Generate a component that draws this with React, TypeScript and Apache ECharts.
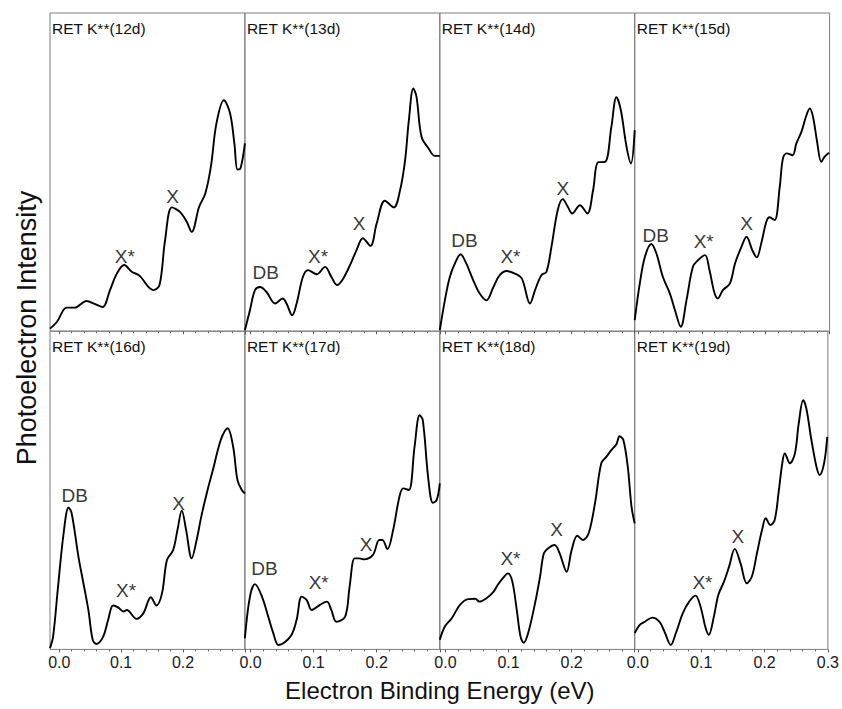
import React, { useEffect, useRef } from "react";
import * as echarts from "echarts";

// ---------- data ----------
const panelTitles = [
  "RET K**(12d)", "RET K**(13d)", "RET K**(14d)", "RET K**(15d)",
  "RET K**(16d)", "RET K**(17d)", "RET K**(18d)", "RET K**(19d)",
];

// x-axis start per column (eV); every panel ends at 0.3
const columnXMin = [-0.015, -0.009, -0.009, -0.005];
const xMax = 0.3;

const majorTickValues = [0, 0.1, 0.2, 0.3];
const minorTickValues = [0.02, 0.04, 0.06, 0.08, 0.12, 0.14, 0.16, 0.18, 0.22, 0.24, 0.26, 0.28];
const tickLabelsInner = [0, 0.1, 0.2];
const tickLabelsLast = [0, 0.1, 0.2, 0.3];

const spec12 = [[-0.015,0.8],[-0.004,2.9],[0.012,7.4],[0.025,7.4],[0.044,9.5],[0.058,8.5],[0.070,7.6],[0.082,12.9],[0.093,18.1],[0.105,20.8],[0.117,18.7],[0.130,17.4],[0.144,13.9],[0.152,12.9],[0.162,14.5],[0.171,28.6],[0.182,38.9],[0.195,37.5],[0.206,34.4],[0.214,31.2],[0.226,39.1],[0.236,43.3],[0.245,51.7],[0.254,65.3],[0.266,72.6],[0.276,68.5],[0.283,59.0],[0.288,50.8],[0.293,51.2],[0.300,59.0]];
const spec13 = [[-0.009,0.3],[-0.001,6.6],[0.007,12.9],[0.015,13.9],[0.025,12.4],[0.039,8.7],[0.051,10.3],[0.057,8.7],[0.066,5.0],[0.073,8.7],[0.083,17.1],[0.091,19.2],[0.105,17.9],[0.118,20.2],[0.128,17.1],[0.137,14.5],[0.147,16.6],[0.160,21.8],[0.168,25.5],[0.178,29.2],[0.190,26.8],[0.200,33.9],[0.213,41.0],[0.227,38.9],[0.237,44.3],[0.245,53.8],[0.251,66.4],[0.258,76.3],[0.263,73.7],[0.271,61.1],[0.282,57.5],[0.292,55.1],[0.300,55.1]];
const spec14 = [[-0.009,0.3],[-0.001,9.7],[0.007,17.1],[0.015,21.3],[0.024,24.2],[0.033,21.3],[0.044,16.0],[0.054,11.9],[0.065,9.7],[0.076,13.9],[0.086,17.6],[0.097,18.9],[0.110,18.1],[0.121,16.6],[0.134,8.7],[0.142,12.9],[0.152,17.6],[0.160,18.6],[0.168,26.5],[0.178,38.1],[0.186,41.5],[0.194,39.1],[0.201,37.0],[0.213,39.6],[0.225,37.0],[0.234,44.3],[0.242,53.1],[0.253,53.2],[0.263,64.2],[0.271,73.5],[0.278,69.5],[0.287,58.0],[0.294,52.7],[0.300,63.2]];
const spec15 = [[-0.005,3.5],[0.003,15.0],[0.011,23.4],[0.021,27.4],[0.029,24.4],[0.039,17.1],[0.050,11.9],[0.058,6.6],[0.067,1.4],[0.076,9.7],[0.086,20.2],[0.094,22.3],[0.105,23.9],[0.112,19.2],[0.120,11.9],[0.125,10.3],[0.133,12.9],[0.144,15.0],[0.152,21.3],[0.162,26.5],[0.170,29.7],[0.179,25.5],[0.186,23.2],[0.193,27.6],[0.201,34.4],[0.206,35.8],[0.214,34.9],[0.222,45.4],[0.227,54.3],[0.233,55.9],[0.242,55.3],[0.248,59.0],[0.256,62.7],[0.263,67.4],[0.269,70.0],[0.274,67.4],[0.280,60.1],[0.287,53.2],[0.292,54.8],[0.299,56.1]];
const spec16 = [[-0.015,0.4],[-0.010,4.0],[-0.002,19.7],[0.007,36.5],[0.015,44.6],[0.020,42.8],[0.031,29.1],[0.039,20.8],[0.047,12.4],[0.054,3.0],[0.060,1.7],[0.071,4.0],[0.079,9.3],[0.087,13.8],[0.095,13.2],[0.104,11.9],[0.109,12.4],[0.125,9.6],[0.136,11.4],[0.148,16.4],[0.157,13.8],[0.166,17.6],[0.174,28.1],[0.184,31.2],[0.191,37.5],[0.198,43.6],[0.205,37.5],[0.214,28.6],[0.222,34.4],[0.230,42.2],[0.241,51.1],[0.249,56.9],[0.257,63.2],[0.264,67.3],[0.272,69.5],[0.281,63.7],[0.288,53.2],[0.295,50.1],[0.300,49.0]];
const spec17 = [[-0.009,3.5],[-0.001,16.6],[0.007,20.5],[0.018,16.6],[0.028,10.3],[0.036,5.1],[0.044,1.4],[0.052,1.9],[0.065,4.6],[0.073,9.3],[0.081,16.6],[0.089,15.5],[0.097,12.4],[0.110,14.0],[0.121,15.0],[0.128,12.4],[0.136,8.7],[0.150,10.3],[0.157,19.7],[0.165,28.6],[0.172,28.6],[0.180,28.3],[0.194,29.7],[0.204,34.4],[0.209,34.4],[0.217,31.5],[0.226,37.5],[0.236,48.0],[0.242,50.6],[0.251,50.1],[0.260,63.7],[0.268,73.6],[0.273,72.1],[0.282,53.2],[0.289,46.1],[0.295,46.9],[0.300,52.2]];
const spec18 = [[-0.009,3.0],[-0.001,7.2],[0.010,9.8],[0.023,14.0],[0.036,15.8],[0.047,15.9],[0.054,15.0],[0.065,16.1],[0.076,18.1],[0.083,20.3],[0.091,22.4],[0.099,23.9],[0.106,21.3],[0.113,12.4],[0.119,4.0],[0.124,2.1],[0.131,5.1],[0.142,14.5],[0.150,22.9],[0.156,30.2],[0.163,31.8],[0.173,32.8],[0.181,30.2],[0.192,24.4],[0.200,31.2],[0.209,35.7],[0.218,34.4],[0.227,36.5],[0.237,45.9],[0.247,58.5],[0.255,60.5],[0.263,62.6],[0.271,64.5],[0.276,67.0],[0.282,65.8],[0.289,57.4],[0.295,44.8],[0.300,39.6]];
const spec19 = [[-0.005,5.1],[0.003,7.7],[0.011,8.7],[0.023,10.0],[0.034,8.7],[0.042,5.6],[0.052,1.4],[0.060,5.1],[0.071,11.4],[0.081,15.0],[0.091,16.9],[0.099,13.4],[0.107,6.7],[0.112,4.6],[0.120,10.3],[0.127,17.1],[0.136,21.3],[0.144,26.0],[0.153,31.6],[0.162,27.1],[0.172,20.8],[0.180,22.9],[0.188,30.2],[0.196,37.5],[0.202,41.2],[0.209,39.1],[0.216,40.7],[0.222,49.0],[0.228,58.5],[0.232,61.6],[0.240,58.5],[0.248,61.6],[0.254,71.0],[0.261,78.3],[0.266,75.7],[0.274,65.8],[0.282,57.4],[0.287,54.8],[0.294,58.5],[0.299,66.8]];

const peaks12 = [["X*", 0.106, 23.6], ["X", 0.183, 42.2]];
const peaks13 = [["DB", 0.024, 18.6], ["X*", 0.107, 23.4], ["X", 0.172, 33.7]];
const peaks14 = [["DB", 0.030, 28.4], ["X*", 0.103, 23.5], ["X", 0.186, 44.7]];
const peaks15 = [["DB", 0.028, 30.2], ["X*", 0.103, 28.2], ["X", 0.170, 33.9]];
const peaks16 = [["DB", 0.025, 48.3], ["X*", 0.108, 18.4], ["X", 0.193, 45.9]];
const peaks17 = [["DB", 0.022, 25.3], ["X*", 0.108, 20.9], ["X", 0.183, 33.1]];
const peaks18 = [["X*", 0.103, 28.6], ["X", 0.176, 37.8]];
const peaks19 = [["X*", 0.102, 20.9], ["X", 0.158, 35.4]];

const spectra = [spec12, spec13, spec14, spec15, spec16, spec17, spec18, spec19];
const peakLabels = [peaks12, peaks13, peaks14, peaks15, peaks16, peaks17, peaks18, peaks19];

const xAxisName = "Electron Binding Energy (eV)";
const yAxisName = "Photoelectron Intensity";

// ---------- layout ----------
const W = 842;
const H = 709;
const PLOT_LEFT = 50;
const PANEL_W = 194.9;
const PLOT_TOP = 13;
const PANEL_H = 318.2;
const FONT = "'Liberation Sans', Arial, sans-serif";
const FRAME = "#7d7d7d";

function buildOption() {
  const grids: any[] = [];
  const xAxes: any[] = [];
  const yAxes: any[] = [];
  const series: any[] = [];
  const graphics: any[] = [];

  for (let i = 0; i < 8; i++) {
    const row = Math.floor(i / 4);
    const col = i % 4;
    const left = PLOT_LEFT + col * PANEL_W;
    const top = PLOT_TOP + row * PANEL_H;
    grids.push({
      left, top, width: PANEL_W, height: PANEL_H,
      show: true, borderColor: FRAME, borderWidth: 1, backgroundColor: "transparent",
    });
    const xmin = columnXMin[col];
    // major ticks + labels
    xAxes.push({
      type: "value", gridIndex: i, min: xmin, max: xMax, position: "bottom",
      axisLine: { show: false }, splitLine: { show: false },
      axisTick: { show: true, customValues: majorTickValues, length: 3, lineStyle: { color: "#555", width: 1 } },
      axisLabel: {
        show: row === 1,
        customValues: col === 3 ? tickLabelsLast : tickLabelsInner,
        formatter: (v: number) => v.toFixed(1),
        fontSize: 16, color: "#1a1a1a", fontFamily: FONT, margin: 5,
      },
    });
    // minor ticks
    xAxes.push({
      type: "value", gridIndex: i, min: xmin, max: xMax, position: "bottom",
      axisLine: { show: false }, splitLine: { show: false },
      axisTick: { show: true, customValues: minorTickValues, length: 2, lineStyle: { color: "#666", width: 1 } },
      axisLabel: { show: false },
    });
    yAxes.push({ type: "value", gridIndex: i, min: 0, max: 100, show: false });

    series.push({
      type: "line", xAxisIndex: 2 * i, yAxisIndex: i,
      data: spectra[i], showSymbol: false, smooth: 0.35,
      lineStyle: { color: "#000", width: 1.9 }, silent: true,
    });
    series.push({
      type: "scatter", xAxisIndex: 2 * i, yAxisIndex: i, symbolSize: 0, silent: true,
      itemStyle: { color: "#000" },
      data: peakLabels[i].map((p: any) => ({ name: p[0], value: [p[1], p[2]] })),
      label: {
        show: true, position: "inside", formatter: "{b}", fontSize: 19, color: "#000",
        fontFamily: FONT, textBorderWidth: 0, textBorderColor: "transparent",
      },
    });

    graphics.push({
      type: "text", x: left + 2, y: top + 15,
      style: { text: panelTitles[i], fontSize: 15.5, fontFamily: FONT, fill: "#111", textAlign: "left", textVerticalAlign: "middle" },
    });
  }

  graphics.push({
    type: "text", x: PLOT_LEFT + 2 * PANEL_W, y: 690,
    style: { text: xAxisName, fontSize: 24, fontFamily: FONT, fill: "#111", textAlign: "center", textVerticalAlign: "middle" },
  });
  graphics.push({
    type: "text", x: 27, y: 328, rotation: Math.PI / 2,
    style: { text: yAxisName, fontSize: 27, fontFamily: FONT, fill: "#111", textAlign: "center", textVerticalAlign: "middle" },
  });

  return {
    animation: false,
    backgroundColor: "#fff",
    grid: grids,
    xAxis: xAxes,
    yAxis: yAxes,
    series,
    graphic: graphics,
  };
}

export default function App() {
  const ref = useRef<HTMLDivElement>(null);
  useEffect(() => {
    if (!ref.current) return;
    const chart = echarts.init(ref.current, undefined, { renderer: "svg", width: W, height: H });
    chart.setOption(buildOption() as any);
    return () => chart.dispose();
  }, []);
  return <div ref={ref} style={{ position: "fixed", left: 0, top: 0, width: W, height: H }} />;
}
